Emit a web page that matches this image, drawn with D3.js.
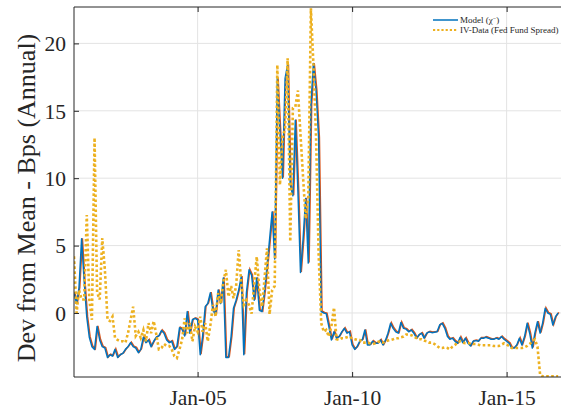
<!DOCTYPE html>
<html><head><meta charset="utf-8">
<script src="https://cdn.jsdelivr.net/npm/d3@7"></script>
<style>body{margin:0;background:#fff}svg{display:block}text{font-family:"Liberation Serif","Times New Roman",serif;fill:#262626}</style>
</head><body><svg id="c" width="561" height="414"></svg>
<script>
const startMonth = "2001-01";
const yTicks = [0, 5, 10, 15, 20];
const xTickLabels = ["Jan-05", "Jan-10", "Jan-15"];
const xTickDates = ["2005-01", "2010-01", "2015-01"];
const seriesNames = ["Model (\u03c7\u207b)", "IV-Data (Fed Fund Spread)"];
const modelValues = [
 1.5,0.7,1.85,5.5,2.4,-0.3,-1.8,-2.5,-2.7,-1.0,-2.0,-2.5,-2.6,-3.3,-3.1,-3.2,-2.7,-3.3,-3.1,-3.0,
 -2.7,-2.5,-2.2,-2.5,-2.6,-2.95,-2.7,-1.8,-2.2,-2.0,-2.5,-2.1,-1.8,-1.7,-1.3,-1.5,-2.0,-2.2,-2.1,-2.7,
 -2.5,-1.1,-1.2,-1.7,0.1,-1.5,-0.5,-0.4,-0.5,-3.1,-1.75,0.47,0.7,1.5,0.2,-0.1,1.7,0.7,2.6,-3.3,
 -3.3,-1.75,0.35,0.95,1.7,2.7,-3.1,1.5,3.2,2.8,0.95,2.6,0.2,0.1,1.5,3.4,5.4,7.5,4.0,17.4,
 13.4,10.0,17.4,18.4,9.5,8.7,14.3,9.0,3.0,5.5,8.5,3.7,15.4,18.5,16.5,13.0,0.1,0.0,-0.05,-1.0,
 -2.0,-1.4,-1.87,-1.75,-1.4,-1.14,-1.5,-1.4,-2.37,-2.7,-2.5,-2.1,-2.0,-1.26,-2.37,-2.37,-2.1,-2.25,-2.25,-2.0,
 -2.37,-2.0,-1.5,-0.76,-1.14,-1.4,-1.5,-0.7,-1.14,-1.2,-1.4,-1.26,-1.5,-1.87,-1.63,-1.5,-1.87,-1.5,-1.4,-1.46,
 -1.43,-1.4,-0.89,-0.77,-1.14,-1.75,-1.95,-1.87,-2.1,-2.25,-1.8,-2.2,-1.87,-2.25,-2.45,-2.1,-2.05,-2.1,-1.87,-1.87,
 -1.8,-1.87,-1.95,-1.95,-1.87,-1.95,-1.75,-1.95,-2.1,-2.25,-2.6,-2.6,-2.37,-1.87,-2.37,-1.75,-0.77,-1.5,-2.6,-1.5,
 -0.65,-1.5,-0.77,0.35,0.0,-0.1,-0.89,-0.27,0.0
];
const ivDataValues = [
 4.2,0.0,1.7,1.0,1.0,7.26,1.0,-0.5,13.0,1.5,1.0,5.55,3.2,-0.5,-0.6,-0.27,-1.85,-2.0,-2.1,-2.1,
 -2.2,-1.5,-0.5,0.47,-1.7,-1.4,-1.85,-1.26,-2.1,-0.75,-1.5,-0.6,-1.6,-2.7,-2.6,-2.3,-2.45,-2.45,-2.7,-3.2,
 -3.35,-2.7,-2.0,-0.4,-1.5,-0.75,-2.1,-1.0,-1.4,-0.27,-1.4,-0.75,-2.1,-0.9,0.6,-0.27,1.48,0.7,2.3,3.2,
 1.2,2.0,1.1,2.0,4.67,2.2,0.6,0.95,0.6,-0.05,2.2,4.17,1.7,0.47,2.4,4.8,-0.1,1.7,2.0,18.4,
 9.5,13.0,13.7,18.9,5.3,15.2,15.3,16.5,13.2,10.0,7.0,8.5,22.6,18.4,13.0,4.4,-0.76,-1.4,-1.26,-1.75,
 -1.0,0.4,-1.95,-2.0,-1.87,-1.87,-1.8,-1.75,-1.9,-1.95,-2.0,-2.0,-2.2,-2.2,-2.2,-2.25,-2.3,-2.25,-2.15,-2.1,
 -2.2,-2.1,-2.05,-2.0,-1.95,-1.87,-1.87,-1.8,-1.75,-1.6,-1.6,-1.65,-1.75,-1.87,-1.95,-1.95,-2.05,-2.1,-2.2,-2.2,
 -2.3,-2.45,-2.6,-2.6,-2.55,-2.6,-2.7,-2.5,-2.37,-2.2,-2.1,-2.2,-2.25,-2.25,-2.25,-2.3,-2.3,-2.35,-2.4,-2.4,
 -2.4,-2.4,-2.4,-2.45,-2.45,-2.45,-2.35,-2.25,-2.35,-2.45,-2.6,-2.6,-2.6,-2.6,-2.6,-2.55,-2.45,-2.3,-2.1,-1.95,
 -2.5,-4.6,-4.7,-4.7,-4.7,-4.7,-4.7,-4.7,-4.7
];

const parseM = d3.timeParse("%Y-%m");
const t0 = parseM(startMonth);
const dates = modelValues.map((_, i) => d3.timeMonth.offset(t0, i));

const L = 74, T = 7, B = 377, R = 563;
const x = d3.scaleTime().domain([t0, d3.timeMonth.offset(t0, 189)]).range([L, L + 189 * 2.575]);
const y = d3.scaleLinear().domain([-4.75, 22.7]).range([B, T]);

const svg = d3.select("#c");
const axisCol = "#262626", gridCol = "#e3e3e3";

svg.append("defs").append("clipPath").attr("id", "clip")
  .append("rect").attr("x", L).attr("y", T).attr("width", R - L).attr("height", B - T);

// grid
const grid = svg.append("g");
grid.selectAll("line.gy").data(yTicks).join("line")
  .attr("x1", L).attr("x2", R).attr("y1", d => y(d)).attr("y2", d => y(d))
  .attr("stroke", gridCol).attr("stroke-width", 1);
grid.selectAll("line.gx").data(xTickDates).join("line")
  .attr("x1", d => x(parseM(d))).attr("x2", d => x(parseM(d))).attr("y1", T).attr("y2", B)
  .attr("stroke", gridCol).attr("stroke-width", 1);

// lines
const plot = svg.append("g").attr("clip-path", "url(#clip)");
const line = d3.line().x((d, i) => x(dates[i])).y(d => y(d));
plot.append("path").datum(modelValues).attr("d", line).attr("fill", "none")
  .attr("stroke", "#D95319").attr("stroke-width", 1.5).attr("transform", "translate(0.8,-0.6)");
plot.append("path").datum(modelValues).attr("d", line).attr("fill", "none")
  .attr("stroke", "#0072BD").attr("stroke-width", 1.5).attr("stroke-linejoin", "round");
plot.append("path").datum(ivDataValues).attr("d", line).attr("fill", "none")
  .attr("stroke", "#EDB120").attr("stroke-width", 2.6).attr("stroke-dasharray", "2.6,2.4");

// axes frame
const yAxis = d3.axisLeft(y).tickValues(yTicks).tickSize(-5).tickPadding(8).tickFormat(d3.format("d"));
const gy = svg.append("g").attr("transform", `translate(${L},0)`).call(yAxis);
gy.select(".domain").attr("stroke", axisCol).attr("d", `M0,${T}V${B}`);
gy.selectAll(".tick line").attr("stroke", axisCol);
gy.selectAll(".tick text").attr("font-size", 21.5).attr("fill", axisCol).attr("font-family", "Liberation Serif").attr("dy", "0.34em");

const xAxis = d3.axisBottom(x).tickValues(xTickDates.map(parseM)).tickSize(-5).tickPadding(13)
  .tickFormat((d, i) => xTickLabels[i]);
const gx = svg.append("g").attr("transform", `translate(0,${B})`).call(xAxis);
gx.select(".domain").attr("stroke", axisCol).attr("d", `M${L},0H${R}`);
gx.selectAll(".tick line").attr("stroke", axisCol);
gx.selectAll(".tick text").attr("font-size", 21.5).attr("fill", axisCol).attr("font-family", "Liberation Serif");

// top frame
const xTop = d3.axisTop(x).tickValues(xTickDates.map(parseM)).tickSize(-5).tickFormat("");
const gt = svg.append("g").attr("transform", `translate(0,${T})`).call(xTop);
gt.select(".domain").attr("stroke", axisCol).attr("d", `M${L},0H${R}`);
gt.selectAll(".tick line").attr("stroke", axisCol);

// y label
svg.append("text").attr("transform", "translate(35,198) rotate(-90)")
  .attr("text-anchor", "middle").attr("font-size", 26).text("Dev from Mean - Bps (Annual)");

// legend
const lg = svg.append("g").attr("font-size", 9);
lg.append("line").attr("x1", 433).attr("x2", 458).attr("y1", 20).attr("y2", 20)
  .attr("stroke", "#0072BD").attr("stroke-width", 1.5);
const t1 = lg.append("text").attr("x", 460).attr("y", 23);
t1.append("tspan").text("Model (\u03c7");
t1.append("tspan").attr("font-size", 6).attr("dy", -3.5).text("\u2212");
t1.append("tspan").attr("dy", 3.5).text(")");
lg.append("line").attr("x1", 433).attr("x2", 458).attr("y1", 30).attr("y2", 30)
  .attr("stroke", "#EDB120").attr("stroke-width", 2.2).attr("stroke-dasharray", "2.2,2");
lg.append("text").attr("x", 460).attr("y", 33).text(seriesNames[1]);
</script></body></html>
